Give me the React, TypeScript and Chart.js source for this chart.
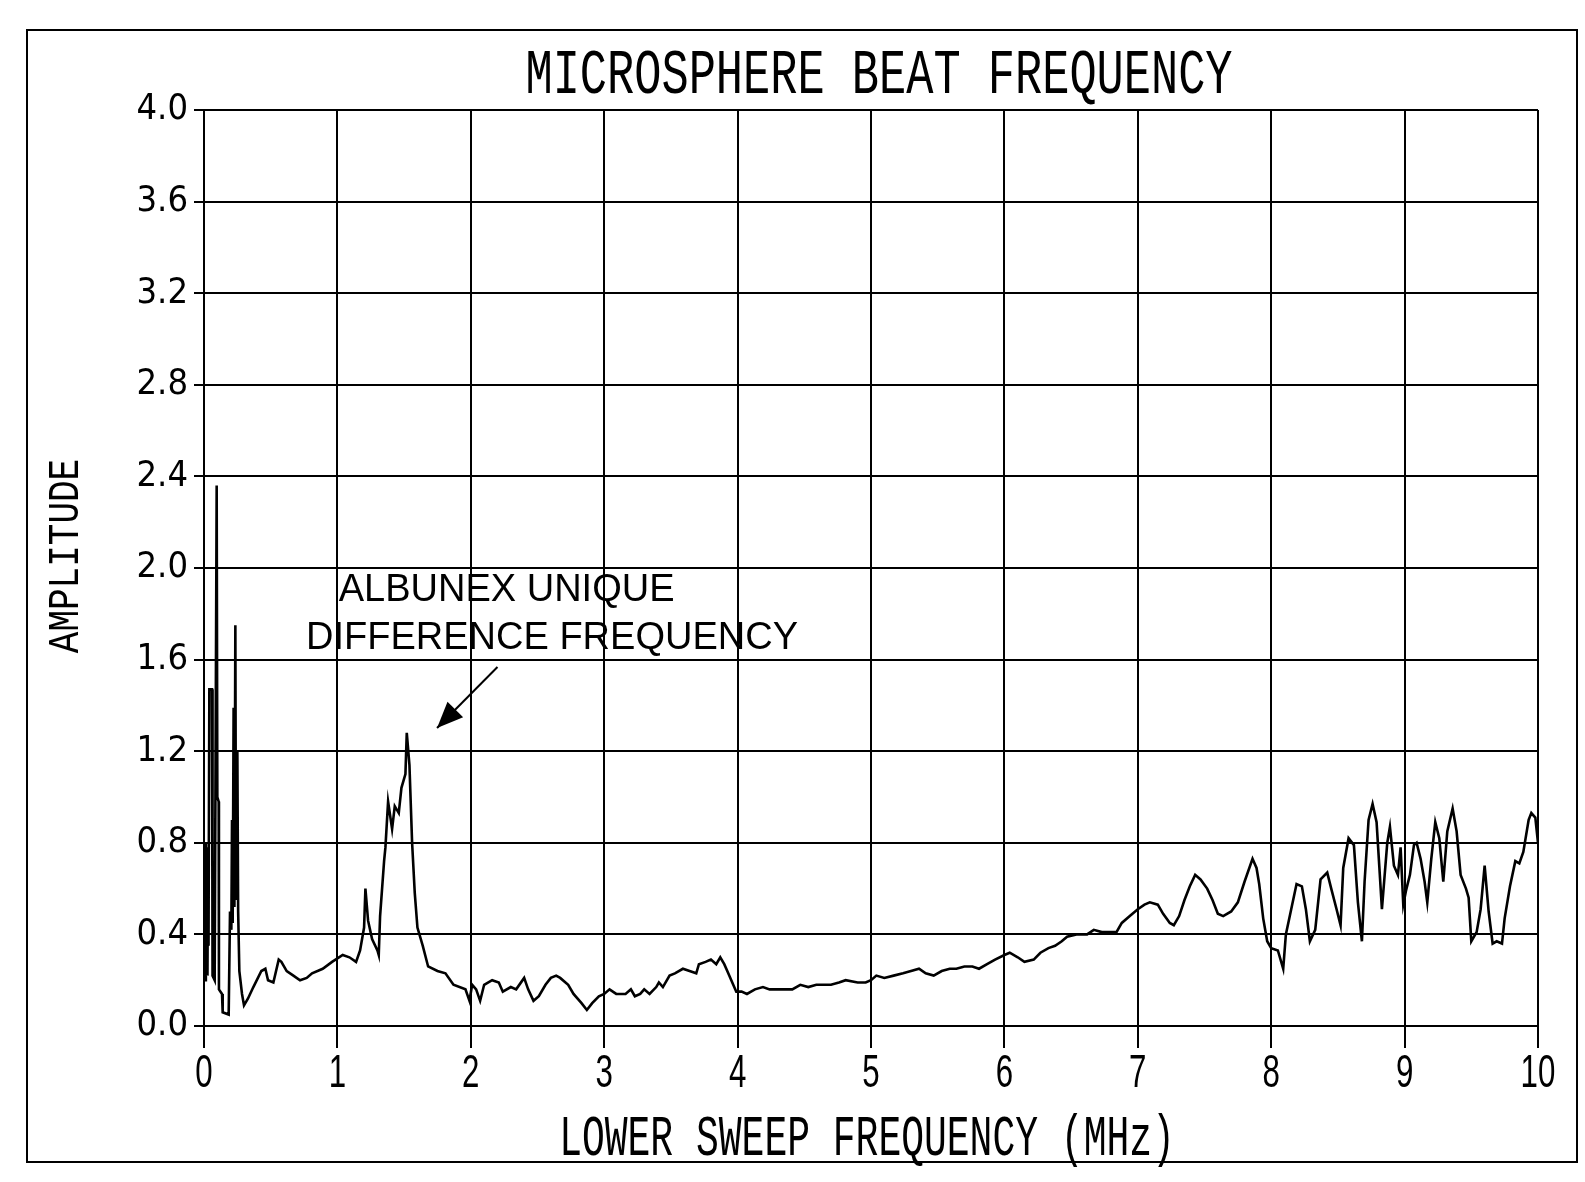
import React, { useEffect, useRef } from "react";
import { Chart, registerables } from "chart.js";

Chart.register(...registerables);

// ---- Data ----
const FREQ_MHZ: number[] = [
  0.000, 0.006, 0.010, 0.014, 0.018, 0.022, 0.026, 0.030, 0.034, 0.040, 0.060, 0.064, 0.080, 0.095, 0.100, 0.110,
  0.112, 0.135, 0.140, 0.185, 0.195, 0.205, 0.210, 0.215, 0.222, 0.228, 0.235, 0.240, 0.250, 0.256, 0.265, 0.285,
  0.300, 0.330, 0.370, 0.43, 0.46, 0.48, 0.52, 0.56, 0.58, 0.62, 0.67, 0.72, 0.77, 0.81, 0.89, 0.96,
  1.04, 1.09, 1.14, 1.17, 1.20, 1.21, 1.23, 1.26, 1.30, 1.31, 1.32, 1.35, 1.36, 1.38, 1.41, 1.43,
  1.46, 1.48, 1.51, 1.52, 1.54, 1.56, 1.58, 1.60, 1.64, 1.68, 1.75, 1.81, 1.87, 1.96, 1.99, 2.01,
  2.04, 2.07, 2.10, 2.16, 2.21, 2.24, 2.30, 2.34, 2.40, 2.43, 2.47, 2.51, 2.56, 2.60, 2.64, 2.67,
  2.73, 2.77, 2.83, 2.87, 2.91, 2.96, 3.00, 3.04, 3.09, 3.16, 3.20, 3.23, 3.27, 3.30, 3.34, 3.39,
  3.41, 3.44, 3.49, 3.53, 3.59, 3.64, 3.69, 3.71, 3.76, 3.80, 3.84, 3.87, 3.90, 3.93, 3.96, 3.99,
  4.03, 4.07, 4.13, 4.19, 4.24, 4.30, 4.36, 4.41, 4.47, 4.53, 4.59, 4.64, 4.70, 4.76, 4.81, 4.90,
  4.96, 5.00, 5.04, 5.10, 5.17, 5.24, 5.30, 5.36, 5.41, 5.47, 5.53, 5.59, 5.64, 5.70, 5.76, 5.81,
  5.87, 5.93, 6.00, 6.04, 6.10, 6.15, 6.22, 6.27, 6.33, 6.38, 6.43, 6.47, 6.54, 6.62, 6.67, 6.73,
  6.84, 6.88, 6.94, 7.00, 7.05, 7.09, 7.15, 7.19, 7.24, 7.27, 7.31, 7.35, 7.39, 7.43, 7.47, 7.52,
  7.56, 7.60, 7.64, 7.70, 7.75, 7.80, 7.86, 7.89, 7.91, 7.94, 7.97, 8.00, 8.05, 8.09, 8.11, 8.15,
  8.19, 8.23, 8.26, 8.29, 8.33, 8.37, 8.42, 8.45, 8.49, 8.52, 8.54, 8.58, 8.62, 8.65, 8.68, 8.70,
  8.73, 8.76, 8.79, 8.81, 8.83, 8.87, 8.89, 8.92, 8.95, 8.97, 8.99, 9.01, 9.04, 9.07, 9.09, 9.12,
  9.15, 9.17, 9.20, 9.23, 9.26, 9.29, 9.32, 9.36, 9.39, 9.42, 9.46, 9.48, 9.50, 9.54, 9.57, 9.60,
  9.63, 9.66, 9.69, 9.73, 9.75, 9.79, 9.83, 9.86, 9.89, 9.93, 9.95, 9.98, 10.00,
];

const AMPLITUDE: number[] = [
  0.22, 0.55, 0.20, 0.80, 0.26, 0.62, 0.22, 0.78, 0.35, 1.47, 1.47, 0.22, 0.20, 2.36, 1.00, 0.98,
  0.16, 0.14, 0.06, 0.05, 0.50, 0.42, 0.90, 0.45, 1.39, 0.52, 1.75, 0.55, 1.20, 0.50, 0.24, 0.14,
  0.09, 0.12, 0.17, 0.24, 0.25, 0.20, 0.19, 0.29, 0.28, 0.24, 0.22, 0.20, 0.21, 0.23, 0.25, 0.28,
  0.31, 0.30, 0.28, 0.33, 0.43, 0.60, 0.46, 0.38, 0.33, 0.31, 0.48, 0.72, 0.78, 0.98, 0.86, 0.96,
  0.93, 1.04, 1.10, 1.28, 1.14, 0.80, 0.58, 0.43, 0.35, 0.26, 0.24, 0.23, 0.18, 0.16, 0.11, 0.18,
  0.16, 0.11, 0.18, 0.20, 0.19, 0.15, 0.17, 0.16, 0.21, 0.16, 0.11, 0.13, 0.18, 0.21, 0.22, 0.21,
  0.18, 0.14, 0.10, 0.07, 0.10, 0.13, 0.14, 0.16, 0.14, 0.14, 0.16, 0.13, 0.14, 0.16, 0.14, 0.17,
  0.19, 0.17, 0.22, 0.23, 0.25, 0.24, 0.23, 0.27, 0.28, 0.29, 0.27, 0.30, 0.27, 0.23, 0.19, 0.15,
  0.15, 0.14, 0.16, 0.17, 0.16, 0.16, 0.16, 0.16, 0.18, 0.17, 0.18, 0.18, 0.18, 0.19, 0.20, 0.19,
  0.19, 0.20, 0.22, 0.21, 0.22, 0.23, 0.24, 0.25, 0.23, 0.22, 0.24, 0.25, 0.25, 0.26, 0.26, 0.25,
  0.27, 0.29, 0.31, 0.32, 0.30, 0.28, 0.29, 0.32, 0.34, 0.35, 0.37, 0.39, 0.40, 0.40, 0.42, 0.41,
  0.41, 0.45, 0.48, 0.51, 0.53, 0.54, 0.53, 0.49, 0.45, 0.44, 0.48, 0.55, 0.61, 0.66, 0.64, 0.60,
  0.55, 0.49, 0.48, 0.50, 0.54, 0.63, 0.73, 0.69, 0.62, 0.47, 0.37, 0.34, 0.33, 0.25, 0.40, 0.51,
  0.62, 0.61, 0.51, 0.37, 0.42, 0.64, 0.67, 0.60, 0.51, 0.44, 0.69, 0.82, 0.79, 0.54, 0.37, 0.63,
  0.90, 0.97, 0.89, 0.70, 0.51, 0.80, 0.87, 0.70, 0.66, 0.78, 0.53, 0.59, 0.66, 0.79, 0.80, 0.73,
  0.63, 0.54, 0.73, 0.89, 0.82, 0.63, 0.85, 0.95, 0.85, 0.66, 0.60, 0.56, 0.37, 0.41, 0.51, 0.70,
  0.50, 0.36, 0.37, 0.36, 0.47, 0.61, 0.72, 0.71, 0.76, 0.90, 0.93, 0.91, 0.80,
];

const X_TICKS: number[] = [0, 1, 2, 3, 4, 5, 6, 7, 8, 9, 10];
const Y_TICKS: number[] = [0, 0.4, 0.8, 1.2, 1.6, 2.0, 2.4, 2.8, 3.2, 3.6, 4.0];

const TITLE = "MICROSPHERE BEAT FREQUENCY";
const X_TITLE = "LOWER SWEEP FREQUENCY (MHz)";
const Y_TITLE = "AMPLITUDE";
const NOTE_LINES: string[] = ["ALBUNEX UNIQUE", "DIFFERENCE FREQUENCY"];

const W = 1585;
const H = 1182;

function drawStretched(
  ctx: CanvasRenderingContext2D,
  text: string,
  cx: number,
  cy: number,
  font: string,
  sx: number,
  sy: number,
  rot: number
) {
  ctx.save();
  ctx.translate(cx, cy);
  ctx.rotate(rot);
  ctx.scale(sx, sy);
  ctx.font = font;
  ctx.textAlign = "center";
  ctx.textBaseline = "middle";
  ctx.fillText(text, 0, 0);
  ctx.restore();
}

const decorPlugin = {
  id: "decor",
  beforeDraw(chart: any) {
    const ctx = chart.ctx;
    ctx.save();
    ctx.fillStyle = "#ffffff";
    ctx.fillRect(0, 0, chart.width, chart.height);
    ctx.restore();
  },
  afterDraw(chart: any) {
    const ctx: CanvasRenderingContext2D = chart.ctx;
    const a = chart.chartArea;
    const xs = chart.scales.x;
    const ys = chart.scales.y;
    ctx.save();
    // outer frame
    ctx.strokeStyle = "#000";
    ctx.lineWidth = 2;
    ctx.strokeRect(27, 30, 1550, 1132);

    ctx.fillStyle = "#000";
    // title
    drawStretched(ctx, TITLE, (a.left + a.right) / 2 + 8, 76, '44px "Liberation Mono"', 1.03, 1.45, 0);
    // x tick labels (tall, narrow plotter style)
    X_TICKS.forEach((v) => {
      drawStretched(ctx, String(v), xs.getPixelForValue(v), a.bottom + 48, '46px "Liberation Sans", sans-serif', 0.68, 1, 0);
    });
    // x axis title
    drawStretched(ctx, X_TITLE, (a.left + a.right) / 2 - 4, 1140, '38px "Liberation Mono"', 1, 1.5, 0);
    // y axis title
    drawStretched(ctx, Y_TITLE, 66, (a.top + a.bottom) / 2 - 12, '36px "Liberation Mono"', 1, 1.25, -Math.PI / 2);

    // annotation
    ctx.font = '38px "Liberation Sans", Arial, sans-serif';
    ctx.textAlign = "left";
    ctx.textBaseline = "middle";
    ctx.fillText(NOTE_LINES[0], xs.getPixelForValue(1.01), ys.getPixelForValue(1.9));
    ctx.fillText(NOTE_LINES[1], xs.getPixelForValue(0.765), ys.getPixelForValue(1.69));

    // arrow
    const x0 = xs.getPixelForValue(2.2);
    const y0 = ys.getPixelForValue(1.568);
    const x1 = xs.getPixelForValue(1.747);
    const y1 = ys.getPixelForValue(1.301);
    const ang = Math.atan2(y1 - y0, x1 - x0);
    ctx.beginPath();
    ctx.moveTo(x0, y0);
    ctx.lineTo(x1, y1);
    ctx.lineWidth = 2;
    ctx.stroke();
    const len = 26;
    const half = 11;
    const bx = x1 - len * Math.cos(ang);
    const by = y1 - len * Math.sin(ang);
    ctx.beginPath();
    ctx.moveTo(x1, y1);
    ctx.lineTo(bx + half * Math.sin(ang), by - half * Math.cos(ang));
    ctx.lineTo(bx - half * Math.sin(ang), by + half * Math.cos(ang));
    ctx.closePath();
    ctx.fill();
    ctx.restore();
  },
};

export default function App() {
  const ref = useRef<HTMLCanvasElement | null>(null);

  useEffect(() => {
    document.body.style.margin = "0";
    const canvas = ref.current;
    if (!canvas) return;
    const points = FREQ_MHZ.map((f, i) => ({ x: f, y: AMPLITUDE[i] }));
    const chart = new Chart(canvas, {
      type: "line",
      data: {
        datasets: [
          {
            data: points,
            borderColor: "#000",
            borderWidth: 2.6,
            pointRadius: 0,
            fill: false,
            tension: 0,
          },
        ],
      },
      options: {
        animation: false,
        responsive: false,
        maintainAspectRatio: false,
        layout: { padding: { left: 0, right: 47, top: 110, bottom: 0 } },
        plugins: {
          legend: { display: false },
          title: { display: false },
          tooltip: { enabled: false },
        },
        scales: {
          x: {
            type: "linear",
            min: 0,
            max: 10,
            afterBuildTicks: (s: any) => {
              s.ticks = X_TICKS.map((v) => ({ value: v }));
            },
            afterFit: (s: any) => {
              s.height = 156;
            },
            ticks: { display: false },
            grid: { color: "#000", lineWidth: 2, tickLength: 22, drawTicks: true },
            border: { color: "#000", width: 2 },
          },
          y: {
            type: "linear",
            min: 0,
            max: 4,
            afterBuildTicks: (s: any) => {
              s.ticks = Y_TICKS.map((v) => ({ value: v }));
            },
            afterFit: (s: any) => {
              s.width = 204;
            },
            ticks: {
              color: "#000",
              font: { family: '"DejaVu Sans Condensed", "Liberation Sans Narrow", sans-serif', size: 36 },
              padding: 6,
              autoSkip: false,
              callback: (v: any) => Number(v).toFixed(1),
            },
            grid: { color: "#000", lineWidth: 2, tickLength: 10, drawTicks: true },
            border: { color: "#000", width: 2 },
          },
        },
      },
      plugins: [decorPlugin],
    });
    return () => chart.destroy();
  }, []);

  return (
    <div style={{ position: "fixed", left: 0, top: 0, width: W, height: H, background: "#fff" }}>
      <canvas ref={ref} width={W} height={H} style={{ width: W, height: H, display: "block" }} />
    </div>
  );
}
